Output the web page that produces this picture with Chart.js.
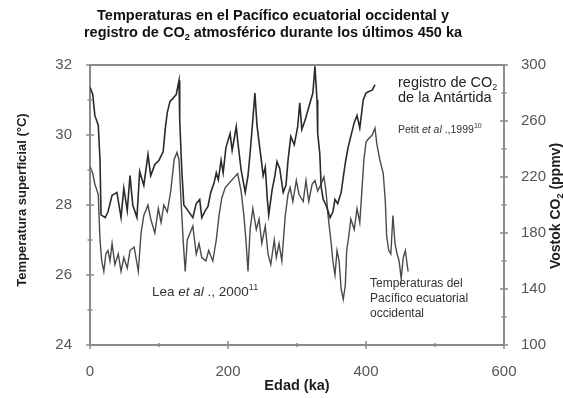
<!DOCTYPE html>
<html>
<head>
<meta charset="utf-8">
<script src="https://cdn.jsdelivr.net/npm/chart.js@4.4.1/dist/chart.umd.min.js"></script>
<style>
  html, body { margin: 0; padding: 0; background: #fff; }
  canvas { display: block; }
</style>
</head>
<body>
<canvas id="chart" width="563" height="398"></canvas>
<script>
// ─── Data ───────────────────────────────────────────────────────────────────
// Vostok CO2 record (ppmv) against age (ka)
const co2Ages = [0, 4, 7, 12, 14.5, 16, 22, 26, 32, 39, 45, 49, 54, 58, 62, 68, 72, 78, 84, 88,
  94, 100, 106, 109, 112, 116, 120, 125, 129, 130, 133, 136, 142, 149, 154, 159, 162, 167, 171, 175,
  180, 183, 186, 190, 193, 197, 203, 206, 212, 214, 219, 225, 229, 232, 236, 239, 242, 246, 251, 254,
  257, 259, 264, 268, 271, 275, 280, 284, 287, 291, 296, 301, 304, 307, 312, 316, 320, 323, 326, 329,
  330, 333, 335, 338, 342, 348, 352, 355, 359, 364, 370, 374, 378, 383, 387, 391, 396, 400, 404, 409, 413];
const co2Values = [284, 279, 264, 257, 232, 193, 191, 195, 207, 209, 191, 212, 196, 221, 200, 191, 224, 214, 236, 221,
  229, 232, 238, 254, 266, 274, 276, 279, 289, 261, 225, 200, 196, 191, 201, 204, 191, 196, 199, 209,
  216, 223, 218, 232, 223, 241, 251, 239, 256, 246, 225, 209, 221, 237, 261, 280, 257, 241, 221, 227,
  204, 193, 211, 221, 231, 226, 209, 214, 232, 249, 243, 256, 273, 254, 261, 268, 275, 280, 299, 275,
  251, 237, 213, 204, 200, 191, 195, 204, 201, 209, 230, 241, 249, 259, 264, 255, 275, 280, 281, 282, 286];

// West Pacific sea surface temperature (°C) against age (ka)
const sstAges = [0, 4, 7, 12, 14.5, 17, 20, 23, 26, 29, 32, 36, 41, 45, 49, 54, 58, 64, 70, 74,
  78, 84, 88, 94, 99, 103, 107, 112, 117, 122, 126, 129, 132, 135, 138, 141, 145, 149, 154, 158,
  162, 168, 172, 178, 183, 187, 191, 196, 214, 219, 223, 226, 229, 232, 236, 241, 245, 249, 254, 258,
  262, 267, 270, 274, 278, 283, 287, 290, 294, 299, 303, 309, 313, 317, 322, 326, 330, 335, 339, 342,
  345, 349, 352, 355, 358, 361, 364, 367, 370, 372, 375, 378, 383, 387, 391, 394, 397, 400, 404, 409,
  413, 416, 420, 425, 428, 430, 433, 436, 439, 442, 445, 448, 451, 454, 457, 461];
const sstValues = [29.1, 28.9, 28.6, 28.3, 27.0, 26.4, 26.1, 26.6, 26.7, 26.4, 26.9, 26.3, 26.6, 26.1, 26.5, 26.2, 26.7, 26.8, 26.1, 27.2,
  27.7, 28.0, 27.6, 27.2, 27.9, 27.5, 28.0, 27.8, 28.4, 29.3, 29.5, 29.3, 28.1, 27.0, 26.1, 27.0, 27.2, 27.4, 26.6, 26.9,
  26.5, 26.4, 26.7, 26.4, 27.0, 27.7, 28.2, 28.5, 28.9, 28.4, 27.7, 27.0, 26.1, 27.3, 27.9, 27.3, 27.6, 26.9, 27.4, 26.6,
  26.3, 27.0, 26.5, 26.9, 26.4, 27.7, 28.3, 28.5, 28.1, 28.7, 28.3, 28.1, 28.7, 28.1, 28.6, 28.7, 28.4, 28.6, 28.8, 28.4,
  27.7, 27.0, 26.4, 26.0, 26.7, 26.4, 25.6, 25.3, 25.7, 26.7, 27.1, 27.6, 27.3, 27.9, 27.5, 28.4, 29.3, 29.8, 29.9, 30.0,
  30.2, 29.7, 29.3, 28.9, 28.1, 27.1, 26.7, 26.6, 27.7, 26.9, 26.6, 26.4, 25.9, 26.5, 26.7, 26.1];

// Axis ranges / tick steps
const xRange = [0, 600];
const tempRange = [24, 32];
const co2Range = [100, 300];
const xStep = 200, xMinor = 100;
const tempStep = 2, tempMinor = 1;
const co2Step = 40, co2Minor = 20;

// ─── Style ──────────────────────────────────────────────────────────────────
const FAMILY = '"Liberation Sans", Arial, Helvetica, sans-serif';
const AXIS = '#8a8a8a';
const TICK_TXT = '#555';
const TXT = '#1e1e1e';

// text with sub/superscript + italic parts
function fontFor(p, size, weight) {
  const s = (p.sub || p.sup) ? Math.round(size * 0.65) : size;
  return `${p.i ? 'italic ' : ''}${weight} ${s}px ${FAMILY}`;
}
function rich(ctx, x, y, parts, size, opts = {}) {
  const weight = opts.bold ? 'bold' : 'normal';
  const align = opts.align || 'left';
  let w = 0;
  parts.forEach(p => { ctx.font = fontFor(p, size, weight); w += ctx.measureText(p.t).width; });
  let cx = align === 'center' ? x - w / 2 : align === 'right' ? x - w : x;
  ctx.textAlign = 'left';
  ctx.textBaseline = 'middle';
  ctx.fillStyle = opts.color || TXT;
  parts.forEach(p => {
    ctx.font = fontFor(p, size, weight);
    const dy = p.sub ? size * 0.3 : p.sup ? -size * 0.35 : 0;
    ctx.fillText(p.t, cx, y + dy);
    cx += ctx.measureText(p.t).width;
  });
}

function seg(ctx, x1, y1, x2, y2) {
  ctx.beginPath(); ctx.moveTo(x1, y1); ctx.lineTo(x2, y2); ctx.stroke();
}

// ─── Frame, tick marks and labels ───────────────────────────────────────────
const decor = {
  id: 'decor',
  afterDraw(chart) {
    const { ctx, chartArea: a } = chart;
    const { x, y, y2 } = chart.scales;
    ctx.save();

    // top edge of the box
    ctx.strokeStyle = AXIS;
    ctx.lineWidth = 2;
    seg(ctx, a.left - 1, a.top, a.right + 1, a.top);

    // tick marks crossing the axes
    ctx.lineWidth = 1.5;
    for (let v = xRange[0]; v <= xRange[1]; v += xMinor) {
      const px = x.getPixelForValue(v);
      const len = v % xStep ? 2 : 4;
      seg(ctx, px, a.bottom - len, px, a.bottom + len);
    }
    for (let v = tempRange[0]; v <= tempRange[1]; v += tempMinor) {
      const py = y.getPixelForValue(v);
      const len = (v - tempRange[0]) % tempStep ? 2.5 : 4;
      seg(ctx, a.left - len, py, a.left + len, py);
    }
    for (let v = co2Range[0]; v <= co2Range[1]; v += co2Minor) {
      const py = y2.getPixelForValue(v);
      const len = (v - co2Range[0]) % co2Step ? 2.5 : 4;
      seg(ctx, a.right - len, py, a.right + len, py);
    }

    // title
    rich(ctx, 273, 16, [{ t: 'Temperaturas en el Pacífico ecuatorial occidental y' }], 14.5, { bold: true, align: 'center', color: '#111' });
    rich(ctx, 273, 33, [{ t: 'registro de CO' }, { t: '2', sub: true }, { t: ' atmosférico durante los últimos 450 ka' }], 14.5, { bold: true, align: 'center', color: '#111' });

    // axis titles
    rich(ctx, 297, 386, [{ t: 'Edad (ka)' }], 14.5, { bold: true, align: 'center' });
    ctx.save();
    ctx.translate(22, 200); ctx.rotate(-Math.PI / 2);
    rich(ctx, 0, 0, [{ t: 'Temperatura superficial (°C)' }], 13, { bold: true, align: 'center' });
    ctx.restore();
    ctx.save();
    ctx.translate(556, 206); ctx.rotate(-Math.PI / 2);
    rich(ctx, 0, 0, [{ t: 'Vostok CO' }, { t: '2', sub: true }, { t: ' (ppmv)' }], 14, { bold: true, align: 'center' });
    ctx.restore();

    // annotations
    rich(ctx, 398, 83, [{ t: 'registro de CO' }, { t: '2', sub: true }], 14.5, { color: '#222' });
    rich(ctx, 398, 98, [{ t: 'de la Antártida' }], 14.5, { color: '#222' });
    rich(ctx, 398, 130, [{ t: 'Petit ' }, { t: 'et al', i: true }, { t: ' .,1999' }, { t: '10', sup: true }], 10.5, { color: '#333' });
    rich(ctx, 152, 292, [{ t: 'Lea ' }, { t: 'et al', i: true }, { t: ' ., 2000' }, { t: '11', sup: true }], 13.5, { color: '#333' });
    rich(ctx, 370, 284, [{ t: 'Temperaturas del' }], 12, { color: '#333' });
    rich(ctx, 370, 299, [{ t: 'Pacífico ecuatorial' }], 12, { color: '#333' });
    rich(ctx, 370, 314, [{ t: 'occidental' }], 12, { color: '#333' });

    ctx.restore();
  },
};

// ─── Chart ──────────────────────────────────────────────────────────────────
const tickFont = { family: FAMILY, size: 15 };

new Chart(document.getElementById('chart'), {
  type: 'line',
  data: {
    datasets: [
      {
        label: 'Vostok CO2',
        data: co2Ages.map((a, i) => ({ x: a, y: co2Values[i] })),
        yAxisID: 'y2',
        borderColor: '#2a2a2a',
        borderWidth: 1.6,
      },
      {
        label: 'SST',
        data: sstAges.map((a, i) => ({ x: a, y: sstValues[i] })),
        yAxisID: 'y',
        borderColor: '#4a4a4a',
        borderWidth: 1.4,
      },
    ],
  },
  options: {
    responsive: false,
    animation: false,
    layout: { padding: { top: 65, left: 0, right: 0, bottom: 0 } },
    elements: { point: { radius: 0 }, line: { tension: 0, fill: false } },
    plugins: { legend: { display: false }, tooltip: { enabled: false } },
    scales: {
      x: {
        type: 'linear',
        position: 'bottom',
        min: xRange[0], max: xRange[1],
        ticks: { stepSize: xStep, padding: 10, font: tickFont, color: TICK_TXT, maxRotation: 0 },
        grid: { display: false },
        border: { display: true, color: AXIS, width: 2 },
        afterFit: s => { s.height = 53; },
      },
      y: {
        position: 'left',
        min: tempRange[0], max: tempRange[1],
        ticks: { stepSize: tempStep, padding: 10, font: tickFont, color: TICK_TXT },
        grid: { display: false },
        border: { display: true, color: AXIS, width: 2 },
        afterFit: s => { s.width = 90; },
      },
      y2: {
        position: 'right',
        min: co2Range[0], max: co2Range[1],
        ticks: { stepSize: co2Step, padding: 9, font: tickFont, color: TICK_TXT },
        grid: { display: false },
        border: { display: true, color: AXIS, width: 2 },
        afterFit: s => { s.width = 59; },
      },
    },
  },
  plugins: [decor],
});
</script>
</body>
</html>
